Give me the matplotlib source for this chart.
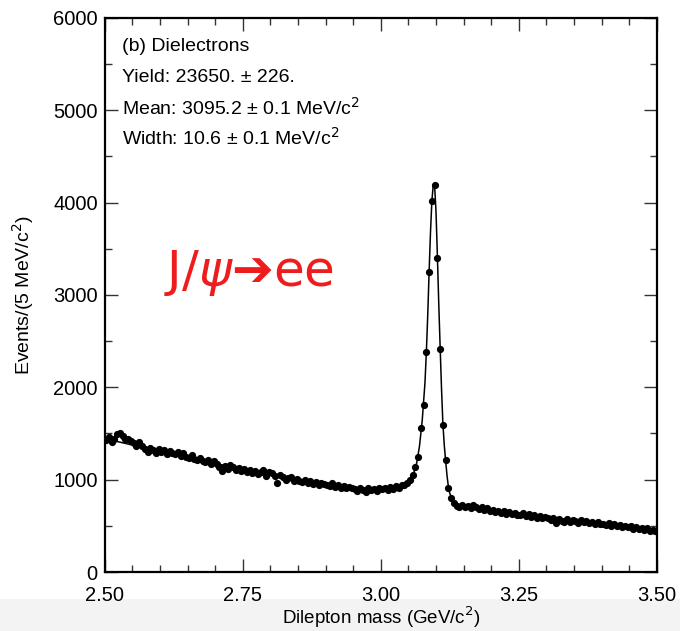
import numpy as np
import matplotlib
matplotlib.use("Agg")
from matplotlib import pyplot as plt
from matplotlib.patches import Rectangle
from matplotlib.ticker import MultipleLocator

plt.rcParams['font.family'] = ['Liberation Sans', 'DejaVu Sans']

# events per 5 MeV bin, bins from 2.50 to 3.50 GeV
bin_lo = 2.50
bin_width = 0.005
counts = [
    1425, 1460, 1410, 1445, 1490, 1505, 1470, 1440, 1445, 1420,
    1395, 1370, 1405, 1360, 1330, 1300, 1345, 1320, 1290, 1335,
    1300, 1325, 1280, 1310, 1290, 1275, 1305, 1260, 1285, 1250,
    1240, 1265, 1225, 1215, 1240, 1200, 1190, 1215, 1175, 1200,
    1165, 1140, 1090, 1150, 1120, 1160, 1135, 1100, 1125, 1095,
    1115, 1080, 1105, 1070, 1090, 1060, 1080, 1100, 1045, 1085,
    1070, 1040, 965, 1050, 1025, 1000, 1015, 1030, 990, 1005,
    990, 975, 1000, 960, 985, 955, 970, 940, 965, 950,
    945, 930, 960, 920, 940, 910, 930, 905, 925, 915,
    900, 880, 915, 890, 870, 905, 885, 900, 875, 910,
    895, 915, 885, 920, 900, 930, 915, 945, 940, 960,
    1000, 1050, 1140, 1250, 1560, 1810, 2380, 3250, 4020, 4190,
    3400, 2420, 1590, 1210, 915, 800, 745, 720, 705, 730,
    700, 715, 690, 725, 705, 680, 700, 670, 690, 665,
    675, 650, 665, 640, 660, 630, 650, 625, 640, 615,
    620, 635, 605, 625, 600, 615, 590, 610, 580, 600,
    585, 560, 590, 535, 570, 555, 540, 575, 545, 560,
    550, 535, 560, 540, 555, 530, 545, 520, 540, 515,
    525, 505, 530, 500, 515, 495, 510, 485, 500, 490,
    495, 470, 490, 465, 480, 455, 475, 445, 460, 440,
]

# fitted signal + background curve
fit_mass = [2.50, 2.55, 2.60, 2.65, 2.70, 2.75, 2.80, 2.85, 2.90, 2.95,
            3.00, 3.02, 3.04, 3.05, 3.06, 3.065, 3.07, 3.075, 3.08, 3.0825,
            3.085, 3.0875, 3.09, 3.0925, 3.095, 3.0965, 3.0975, 3.10, 3.1025, 3.105,
            3.1075, 3.11, 3.1125, 3.115, 3.1175, 3.12, 3.1225, 3.125, 3.13, 3.14,
            3.15, 3.20, 3.25, 3.30, 3.35, 3.40, 3.45, 3.50]
fit_counts = [1445, 1375, 1305, 1240, 1175, 1115, 1055, 1000, 950, 910,
              895, 905, 940, 980, 1080, 1180, 1360, 1640, 2050, 2380,
              2780, 3250, 3680, 4020, 4190, 4210, 4180, 3900, 3420, 2900,
              2430, 1980, 1600, 1370, 1200, 1040, 920, 850, 785, 735,
              712, 665, 618, 572, 540, 510, 482, 450]

mass = bin_lo + bin_width * (np.arange(len(counts)) + 0.5)

fig = plt.figure(figsize=(6.8, 6.31), dpi=100)
fig.patches.append(Rectangle((0, 0), 1, 0.05, transform=fig.transFigure,
                             facecolor='#f3f3f3', edgecolor='none', zorder=-5))
ax = fig.add_axes([0.154, 0.0935, 0.812, 0.878])
ax.set_zorder(1)

ax.plot(fit_mass, fit_counts, color='black', lw=1.1, zorder=2)
ax.plot(mass, counts, 'o', color='black', ms=5.2, mew=0, zorder=3)

ax.set_xlim(2.5, 3.5)
ax.set_ylim(0, 6000)
ax.xaxis.set_major_locator(MultipleLocator(0.25))
ax.xaxis.set_minor_locator(MultipleLocator(0.05))
ax.yaxis.set_major_locator(MultipleLocator(1000))
ax.yaxis.set_minor_locator(MultipleLocator(500))
ax.xaxis.set_major_formatter(plt.FormatStrFormatter('%.2f'))
ax.tick_params(which='both', direction='in', top=True, right=True,
               labelsize=14.5, width=1.0, color='#333333')
ax.tick_params(which='major', length=9.5)
ax.tick_params(axis='x', which='major', pad=10)
ax.tick_params(axis='y', which='major', pad=5)
ax.tick_params(which='minor', length=5)
for s in ax.spines.values():
    s.set_linewidth(1.6)

ax.set_xlabel('Dilepton mass (GeV/c$^2$)', fontsize=13.5, labelpad=-0.5)
ax.set_ylabel('Events/(5 MeV/c$^2$)', fontsize=14, labelpad=12)

info = ['(b) Dielectrons',
        'Yield: 23650. \u00b1 226.',
        'Mean: 3095.2 \u00b1 0.1 MeV/c$^2$',
        'Width: 10.6 \u00b1 0.1 MeV/c$^2$']
for k, line in enumerate(info):
    ax.text(0.031, 0.948 - 0.055 * k, line, transform=ax.transAxes,
            fontsize=14, va='center', ha='left')

ax.text(0.108, 0.54, 'J/$\\psi$\u2794ee', transform=ax.transAxes,
        fontsize=36, color='#ee1c1c', va='center', ha='left',
        family=['DejaVu Sans'])

fig.savefig('out.png', dpi=100)
